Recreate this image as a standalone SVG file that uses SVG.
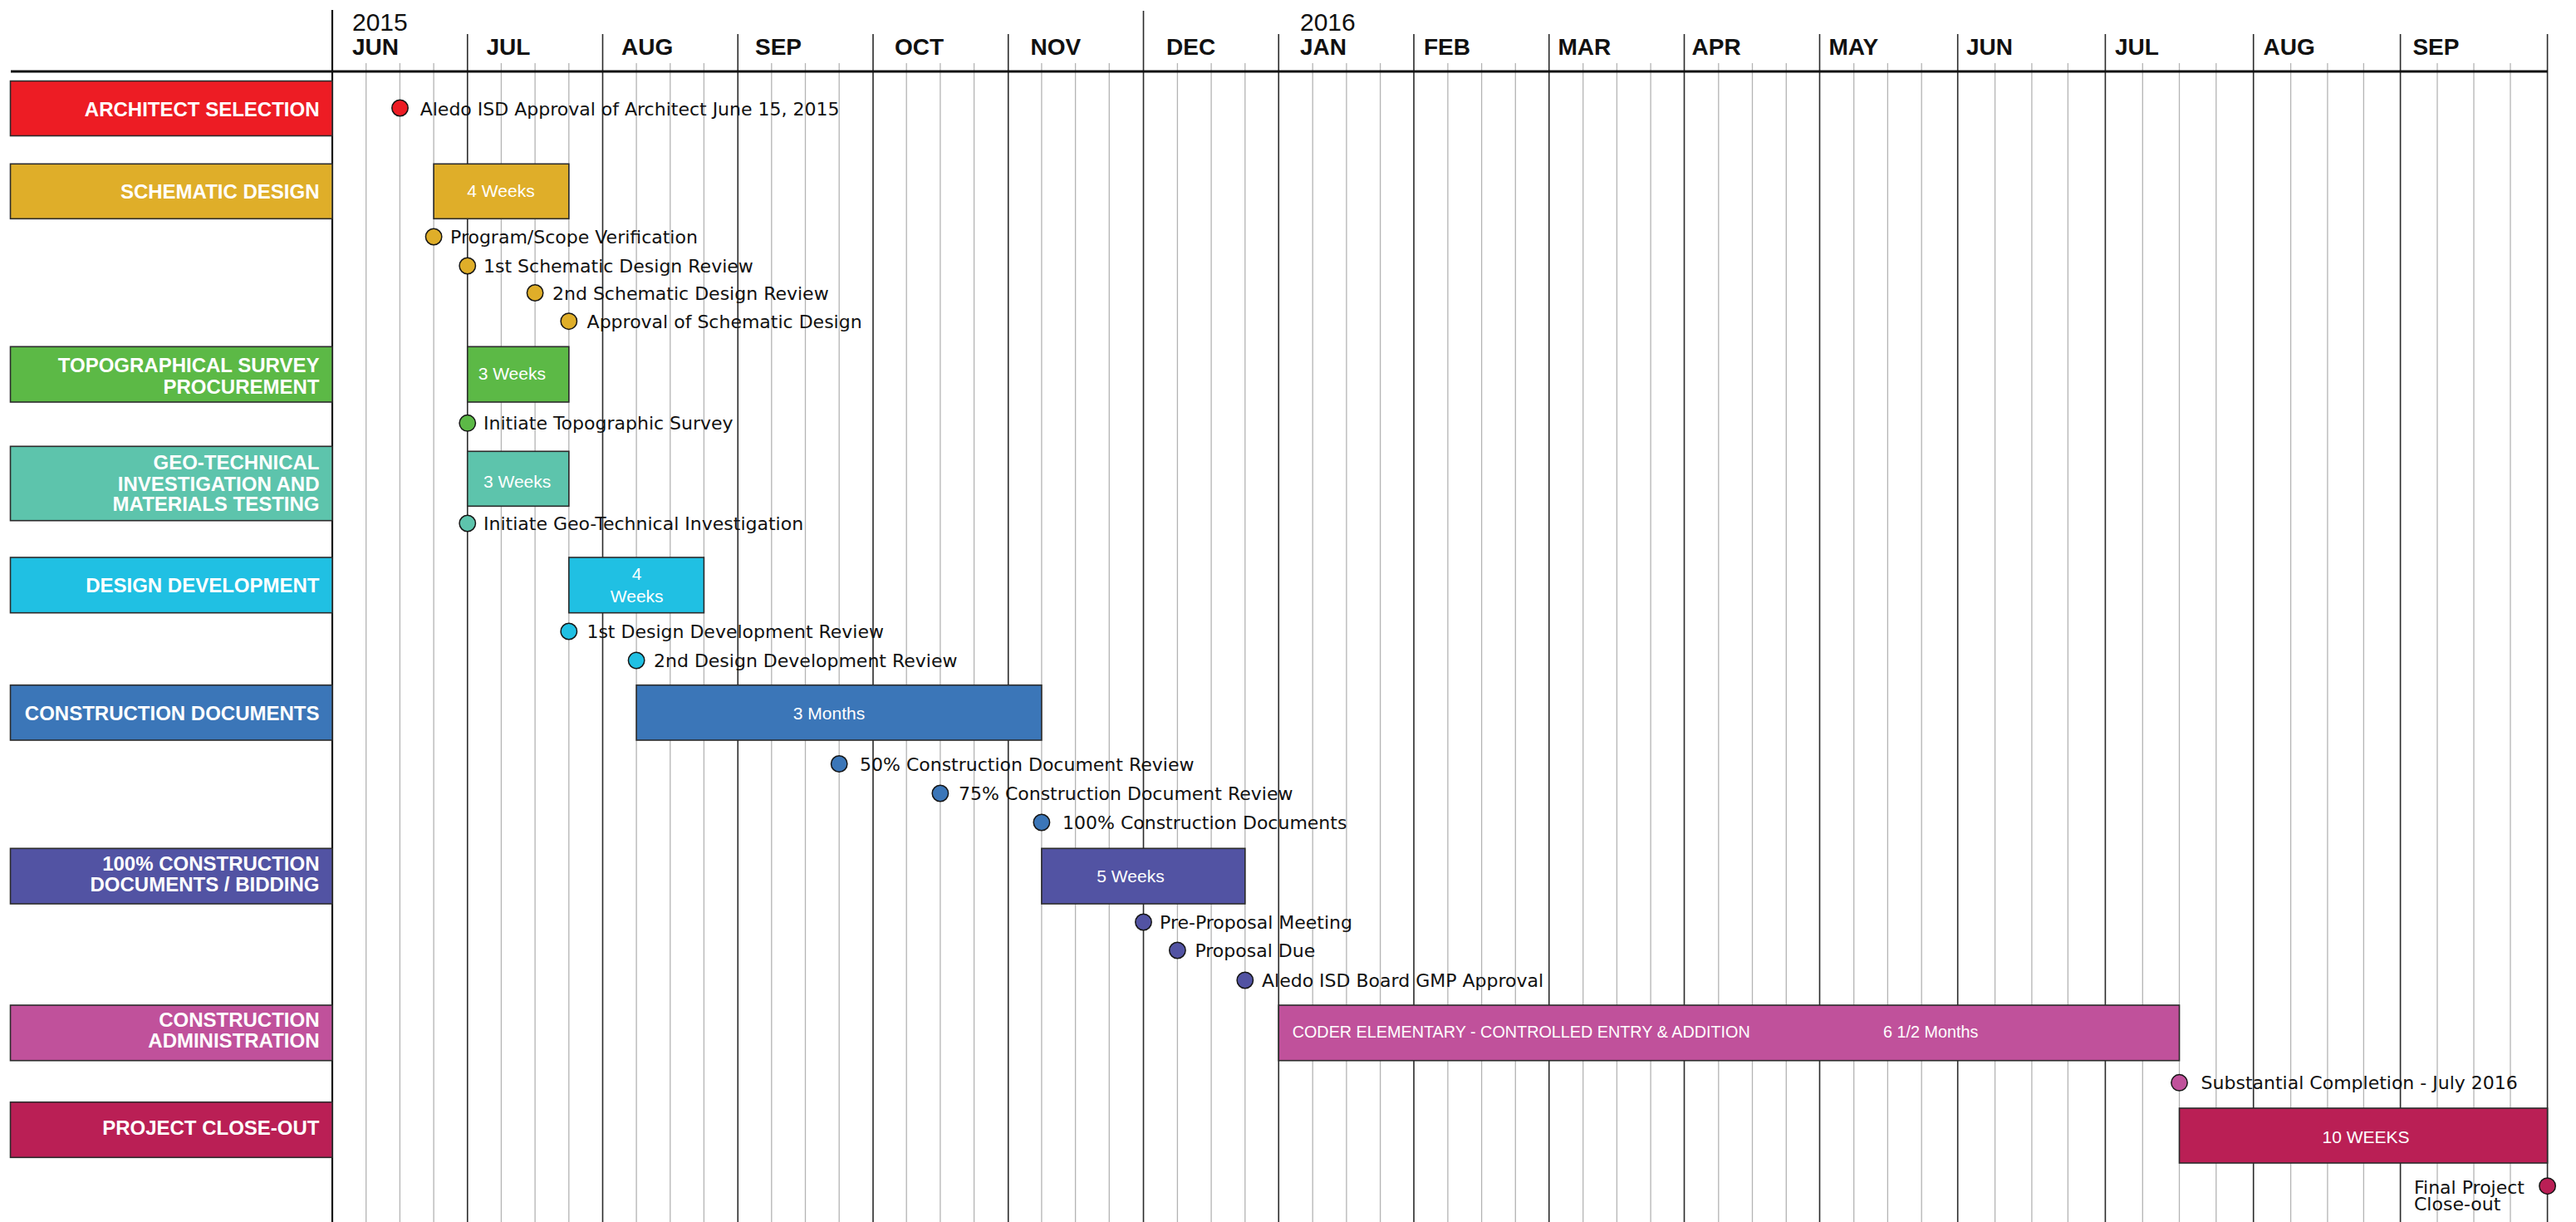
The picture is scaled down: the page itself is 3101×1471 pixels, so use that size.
<svg xmlns="http://www.w3.org/2000/svg" width="3101" height="1471" viewBox="0 0 3101 1471">
<style>
.bg{fill:#ffffff}
.wk{stroke:#b4b4b4;stroke-width:1.3}
.mo{stroke:#2a2a2a;stroke-width:1.6}
.box{stroke:#2b2b2b;stroke-width:1.6}
.lbl{font-family:"Liberation Sans",Arial,sans-serif;font-weight:bold;font-size:24px;fill:#ffffff;text-anchor:end}
.bt{font-family:"Liberation Sans",Arial,sans-serif;font-size:21px;fill:#ffffff;text-anchor:middle}
.bts{font-family:"Liberation Sans",Arial,sans-serif;font-size:19.8px;fill:#ffffff}
.ms{font-family:"DejaVu Sans",Verdana,sans-serif;font-size:22px;fill:#111111}
.mon{font-family:"Liberation Sans",Arial,sans-serif;font-weight:bold;font-size:28px;fill:#111111}
.yr{font-family:"Liberation Sans",Arial,sans-serif;font-size:30px;fill:#111111}
.dot{stroke:#151515;stroke-width:1.5}
.c1{fill:#ED1C24}.c2{fill:#DFAE29}.c3{fill:#5CB946}.c4{fill:#5DC4AC}.c5{fill:#20C0E3}
.c6{fill:#3B76B8}.c7{fill:#5253A3}.c8{fill:#C0519B}.c9{fill:#BA1F55}
</style>
<rect class="bg" x="0" y="0" width="3101" height="1471"/>

<g id="grid">
  <g id="week-lines">
    <path class="wk" d="M440.7 76V1471M481.4 76V1471M522.1 76V1471M603.4 76V1471M644.1 76V1471M684.8 76V1471M766.1 76V1471M806.8 76V1471M847.4 76V1471M928.8 76V1471M969.5 76V1471M1010.2 76V1471M1091.2 76V1471M1131.9 76V1471M1172.6 76V1471M1253.9 76V1471M1294.6 76V1471M1335.3 76V1471M1417.4 76V1471M1458.1 76V1471M1498.8 76V1471M1580.2 76V1471M1620.9 76V1471M1661.6 76V1471M1742.9 76V1471M1783.6 76V1471M1824.3 76V1471M1905.7 76V1471M1946.4 76V1471M1987.1 76V1471M2068.8 76V1471M2109.5 76V1471M2150.3 76V1471M2231.7 76V1471M2272.4 76V1471M2313.2 76V1471M2401.6 76V1471M2445.9 76V1471M2489.4 76V1471M2579.3 76V1471M2623.5 76V1471M2667.8 76V1471M2757.6 76V1471M2801.9 76V1471M2845.4 76V1471M2934 76V1471M2978 76V1471M3022 76V1471"/>
  </g>
  <g id="month-lines">
    <path class="mo" d="M562.75 41V1471M725.5 41V1471M888.25 41V1471M1051 41V1471M1213.75 41V1471M1376.5 13V1471M1539.25 41V1471M1702 41V1471M1864.75 41V1471M2027.5 41V1471M2190.5 41V1471M2356.7 41V1471M2534.4 41V1471M2712.7 41V1471M2889.6 41V1471M3066.6 41V1471"/>
    <path stroke="#111" stroke-width="2.2" d="M400 12V1471"/>
  </g>
  <path id="header-rule" stroke="#111" stroke-width="3.2" d="M13 86H3067"/>
  <g id="header-text">
    <text class="yr" x="424" y="36.7">2015</text>
    <text class="yr" x="1565" y="36.7">2016</text>
    <text class="mon" x="424" y="65.7">JUN</text>
    <text class="mon" x="585.5" y="65.7">JUL</text>
    <text class="mon" x="748" y="65.7">AUG</text>
    <text class="mon" x="909" y="65.7">SEP</text>
    <text class="mon" x="1077" y="65.7">OCT</text>
    <text class="mon" x="1240.6" y="65.7">NOV</text>
    <text class="mon" x="1404" y="65.7">DEC</text>
    <text class="mon" x="1565" y="65.7">JAN</text>
    <text class="mon" x="1714" y="65.7">FEB</text>
    <text class="mon" x="1875.5" y="65.7">MAR</text>
    <text class="mon" x="2036.5" y="65.7">APR</text>
    <text class="mon" x="2201.5" y="65.7">MAY</text>
    <text class="mon" x="2367" y="65.7">JUN</text>
    <text class="mon" x="2546" y="65.7">JUL</text>
    <text class="mon" x="2724.6" y="65.7">AUG</text>
    <text class="mon" x="2904.4" y="65.7">SEP</text>
  </g>
</g>

<g id="connectors"></g>

<g id="architect-selection">
  <rect class="box c1" x="12.5" y="97.5" width="387.5" height="66"/>
  <text class="lbl" x="384.5" y="140">ARCHITECT SELECTION</text>
  <circle class="dot c1" cx="481.5" cy="130" r="9.7"/>
  <text class="ms" x="505.7" y="138.5">Aledo ISD Approval of Architect June 15, 2015</text>
</g>

<g id="schematic-design">
  <rect class="box c2" x="12.5" y="197.3" width="387.5" height="66"/>
  <text class="lbl" x="384.5" y="239.3">SCHEMATIC DESIGN</text>
  <rect class="box c2" x="522.1" y="197.3" width="162.7" height="66"/>
  <text class="bt" x="603" y="237">4 Weeks</text>
  <circle class="dot c2" cx="522.1" cy="285" r="9.7"/>
  <text class="ms" x="542" y="293">Program/Scope Verification</text>
  <circle class="dot c2" cx="562.75" cy="320" r="9.7"/>
  <text class="ms" x="582" y="328">1st Schematic Design Review</text>
  <circle class="dot c2" cx="644.1" cy="352.5" r="9.7"/>
  <text class="ms" x="665" y="360.5">2nd Schematic Design Review</text>
  <circle class="dot c2" cx="684.8" cy="386.7" r="9.7"/>
  <text class="ms" x="706.6" y="394.7">Approval of Schematic Design</text>
</g>

<g id="topographical-survey">
  <rect class="box c3" x="12.5" y="417.3" width="387.5" height="66.7"/>
  <text class="lbl" x="384.5" y="448.3">TOPOGRAPHICAL SURVEY</text>
  <text class="lbl" x="384.5" y="474">PROCUREMENT</text>
  <rect class="box c3" x="562.75" y="417.3" width="122.05" height="66.7"/>
  <text class="bt" x="616.3" y="457">3 Weeks</text>
  <circle class="dot c3" cx="562.75" cy="509.3" r="9.7"/>
  <text class="ms" x="582" y="517.3">Initiate Topographic Survey</text>
</g>

<g id="geo-technical">
  <rect class="box c4" x="12.5" y="537.3" width="387.5" height="89.4"/>
  <text class="lbl" x="384.5" y="565">GEO-TECHNICAL</text>
  <text class="lbl" x="384.5" y="590.7">INVESTIGATION AND</text>
  <text class="lbl" x="384.5" y="615">MATERIALS TESTING</text>
  <rect class="box c4" x="562.75" y="543.3" width="122.05" height="66"/>
  <text class="bt" x="622.6" y="586.7">3 Weeks</text>
  <circle class="dot c4" cx="562.75" cy="630" r="9.7"/>
  <text class="ms" x="582" y="638">Initiate Geo-Technical Investigation</text>
</g>

<g id="design-development">
  <rect class="box c5" x="12.5" y="671" width="387.5" height="66.7"/>
  <text class="lbl" x="384.5" y="713.3">DESIGN DEVELOPMENT</text>
  <rect class="box c5" x="684.8" y="671" width="162.6" height="66.7"/>
  <text class="bt" x="766.7" y="698">4</text>
  <text class="bt" x="766.7" y="725">Weeks</text>
  <circle class="dot c5" cx="684.8" cy="760" r="9.7"/>
  <text class="ms" x="706.4" y="768">1st Design Development Review</text>
  <circle class="dot c5" cx="766.1" cy="795" r="9.7"/>
  <text class="ms" x="787" y="803">2nd Design Development Review</text>
</g>

<g id="construction-documents">
  <rect class="box c6" x="12.5" y="824.7" width="387.5" height="66.3"/>
  <text class="lbl" x="384.5" y="867.3">CONSTRUCTION DOCUMENTS</text>
  <rect class="box c6" x="766.1" y="824.7" width="487.8" height="66.3"/>
  <text class="bt" x="998" y="865.7">3 Months</text>
  <circle class="dot c6" cx="1010.2" cy="919.5" r="9.7"/>
  <text class="ms" x="1035" y="927.5">50% Construction Document Review</text>
  <circle class="dot c6" cx="1131.9" cy="955" r="9.7"/>
  <text class="ms" x="1154" y="963">75% Construction Document Review</text>
  <circle class="dot c6" cx="1253.9" cy="990" r="9.7"/>
  <text class="ms" x="1279" y="998">100% Construction Documents</text>
</g>

<g id="bidding">
  <rect class="box c7" x="12.5" y="1021.3" width="387.5" height="66.7"/>
  <text class="lbl" x="384.5" y="1048.3">100% CONSTRUCTION</text>
  <text class="lbl" x="384.5" y="1072.7">DOCUMENTS / BIDDING</text>
  <rect class="box c7" x="1253.9" y="1021.3" width="244.9" height="66.7"/>
  <text class="bt" x="1361" y="1061.7">5 Weeks</text>
  <circle class="dot c7" cx="1376.5" cy="1110" r="9.7"/>
  <text class="ms" x="1396" y="1118">Pre-Proposal Meeting</text>
  <circle class="dot c7" cx="1417.4" cy="1144" r="9.7"/>
  <text class="ms" x="1438.4" y="1152">Proposal Due</text>
  <circle class="dot c7" cx="1498.8" cy="1180" r="9.7"/>
  <text class="ms" x="1519" y="1188">Aledo ISD Board GMP Approval</text>
</g>

<g id="construction-administration">
  <rect class="box c8" x="12.5" y="1210" width="387.5" height="66.7"/>
  <text class="lbl" x="384.5" y="1236">CONSTRUCTION</text>
  <text class="lbl" x="384.5" y="1261">ADMINISTRATION</text>
  <rect class="box c8" x="1539.25" y="1210" width="1084.25" height="66.7"/>
  <text class="bts" x="1555.7" y="1249.3">CODER ELEMENTARY - CONTROLLED ENTRY &amp; ADDITION</text>
  <text class="bts" x="2267" y="1249.3">6 1/2 Months</text>
  <circle class="dot c8" cx="2623.5" cy="1303.3" r="9.7"/>
  <text class="ms" x="2649.6" y="1311.3">Substantial Completion - July 2016</text>
</g>

<g id="project-close-out">
  <rect class="box c9" x="12.5" y="1326.7" width="387.5" height="66.6"/>
  <text class="lbl" x="384.5" y="1366">PROJECT CLOSE-OUT</text>
  <rect class="box c9" x="2623.5" y="1334" width="443.1" height="66"/>
  <text class="bt" x="2848" y="1376">10 WEEKS</text>
  <circle class="dot c9" cx="3066.6" cy="1427.7" r="9.7"/>
  <text class="ms" x="2906" y="1436.7">Final Project</text>
  <text class="ms" x="2906" y="1456.7">Close-out</text>
</g>
</svg>
